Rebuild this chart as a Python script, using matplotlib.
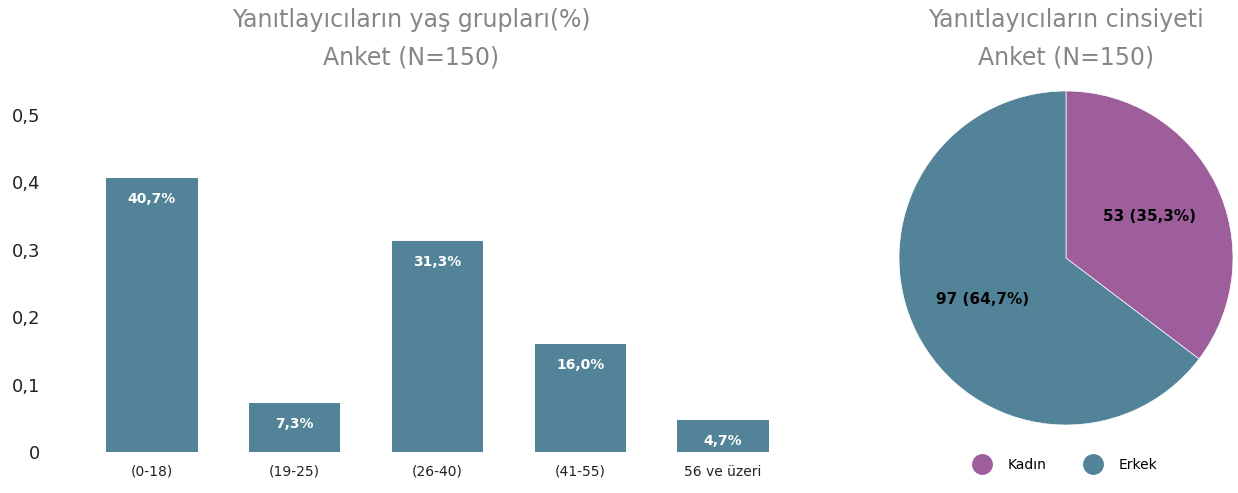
import numpy as np
import matplotlib.pyplot as plt
from matplotlib.lines import Line2D
from matplotlib.ticker import FuncFormatter

plt.rcParams['font.family'] = ['DejaVu Sans']

# data
age_groups = ['(0-18)', '(19-25)', '(26-40)', '(41-55)', '56 ve üzeri']
age_share = [0.407, 0.073, 0.313, 0.160, 0.047]
y_ticks = [0, 0.1, 0.2, 0.3, 0.4, 0.5]

genders = ['Kadın', 'Erkek']
gender_counts = [53, 97]

bar_color = '#528399'
pie_colors = ['#9e5e9b', '#528399']
title_color = '#868686'

W, H = 1238, 493
fig = plt.figure(figsize=(W / 100, H / 100), dpi=100)

# --- bar chart ---
ax1 = fig.add_axes([80.5 / W, (H - 452) / H, 714 / W, 337 / H])
x = np.arange(len(age_groups))
bars = ax1.bar(x, age_share, width=0.64, color=bar_color)
for b, v in zip(bars, age_share):
    ax1.annotate(f"{v*100:.1f}%".replace('.', ','),
                 (b.get_x() + b.get_width() / 2, v), xytext=(0, -15),
                 textcoords='offset points', ha='center', va='center',
                 color='white', fontsize=10, fontweight='bold')
ax1.set_xlim(-0.5, len(age_groups) - 0.5)
ax1.set_ylim(0, 0.5)
ax1.set_yticks(y_ticks)
ax1.yaxis.set_major_formatter(FuncFormatter(lambda v, p: '0' if v == 0 else f"{v:.1f}".replace('.', ',')))
ax1.set_xticks(x)
ax1.set_xticklabels(age_groups, fontsize=10, color='#222222')
ax1.tick_params(axis='y', length=0, pad=29, labelsize=13, labelcolor='#222222')
ax1.tick_params(axis='x', length=0, pad=9)
for s in ax1.spines.values():
    s.set_visible(False)

fig.text(411 / W, 1 - 20 / H, 'Yanıtlayıcıların yaş grupları(%)', ha='center', va='center',
         fontsize=17, color=title_color)
fig.text(411 / W, 1 - 58 / H, 'Anket (N=150)', ha='center', va='center',
         fontsize=17, color=title_color)

# --- pie chart ---
ax2 = fig.add_axes([(1066 - 167) / W, (H - 425) / H, 334 / W, 334 / H])
total = sum(gender_counts)
wedges, texts, autotexts = ax2.pie(
    gender_counts, colors=pie_colors, startangle=90, counterclock=False,
    autopct=lambda p: f"{round(p * total / 100)} ({p:.1f}%)".replace('.', ','),
    pctdistance=0.56, wedgeprops=dict(edgecolor='white', linewidth=0.5))
for t in autotexts:
    t.set_fontsize(11)
    t.set_fontweight('bold')
    t.set_color('black')
ax2.set_xlim(-1, 1)
ax2.set_ylim(-1, 1)
ax2.set_aspect('equal')

handles = [Line2D([], [], marker='o', linestyle='', markersize=14, color=c) for c in pie_colors]
ax2.legend(handles, genders, loc='center', bbox_to_anchor=(0.49, -0.12), ncol=2,
           frameon=False, fontsize=10, columnspacing=2.4, handletextpad=0.8)

fig.text(1066 / W, 1 - 20 / H, 'Yanıtlayıcıların cinsiyeti', ha='center', va='center',
         fontsize=17, color=title_color)
fig.text(1066 / W, 1 - 58 / H, 'Anket (N=150)', ha='center', va='center',
         fontsize=17, color=title_color)

fig.savefig('out.png', dpi=100)
